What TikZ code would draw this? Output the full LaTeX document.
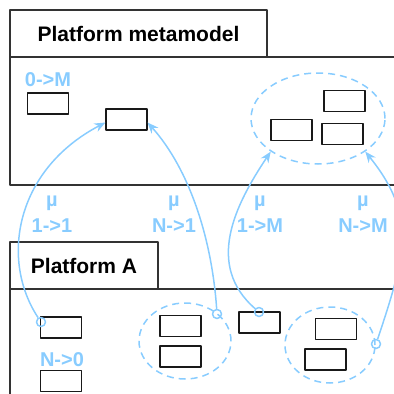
\documentclass[tikz,border=0pt]{standalone}
\usepackage{fontspec}
\setmainfont{Liberation Sans}
\usetikzlibrary{arrows.meta,shapes.geometric}
\definecolor{lblue}{RGB}{136,204,255}
\definecolor{dgray}{RGB}{51,51,51}
\tikzset{
  box/.style={draw=black!90, line width=1.2pt, minimum width=41pt, minimum height=21pt, inner sep=0pt},
  tab/.style={draw=dgray, line width=1.2pt, inner sep=0pt, font=\fontsize{21}{25}\selectfont\bfseries},
  pkg/.style={draw=dgray, line width=1.2pt},
  group/.style={ellipse, draw=lblue, line width=1.5pt, dash pattern=on 7pt off 5pt, inner sep=0pt},
  lbl/.style={text=lblue, align=center, inner sep=0pt, font=\fontsize{20}{26}\selectfont\bfseries},
  tail/.style={circle, draw=lblue, line width=1.5pt, minimum size=9pt, inner sep=0pt},
  link/.style={draw=lblue, line width=1.5pt, -{Stealth[length=11pt,width=9pt]}},
}
\begin{document}
\begin{tikzpicture}[x=1pt, y=-1pt, line join=round]
\useasboundingbox (0,0) rectangle (394,394);
\clip (0,0) rectangle (394,394);
% platform metamodel
\node[tab, minimum width=257pt, minimum height=47pt] (ttop) at (138.5,33.5) {Platform metamodel};
\draw[pkg] (400,57) -- (10,57) -- (10,185) -- (400,185);
\node[lbl] (l0m) at (48,80) {0->M};
\node[box] (m1) at (48,103.5) {};
\node[box] (m2) at (126.5,119.5) {};
\node[group, minimum width=134pt, minimum height=91pt] (gtop) at (318,118.5) {};
\node[box] (m3) at (344.5,101) {};
\node[box] (m4) at (291.5,130) {};
\node[box] (m5) at (342.5,134) {};
% mappings
\node[lbl] (l11) at (52,214.5) {µ\\1->1};
\node[lbl] (ln1) at (174,214.5) {µ\\N->1};
\node[lbl] (l1m) at (260,214.5) {µ\\1->M};
\node[lbl] (lnm) at (363,214.5) {µ\\N->M};
% platform A
\node[tab, minimum width=148pt, minimum height=47pt] (tbot) at (84,265.5) {Platform A};
\draw[pkg] (400,289) -- (10,289) -- (10,400);
\node[box] (a1) at (61,327.5) {};
\node[lbl] (ln0) at (62,360) {N->0};
\node[box] (a2) at (61,381) {};
\node[group, minimum width=92pt, minimum height=76pt] (gmid) at (185,341) {};
\node[box] (a3) at (180.5,326) {};
\node[box] (a4) at (180.5,356.5) {};
\node[box] (a5) at (259.5,322.5) {};
\node[group, minimum width=90pt, minimum height=76pt] (gbot) at (330,345) {};
\node[box] (a6) at (336,329) {};
\node[box] (a7) at (325.5,359.5) {};
% links
\node[tail] (t1) at (41,322) {};
\node[tail] (t2) at (217,314) {};
\node[tail] (t3) at (259,312) {};
\node[tail] (t4) at (376,344) {};
\draw[link] (t1) .. controls (0,260) and (15,170) .. ([yshift=-3pt]m2.west);
\draw[link] (t2) .. controls (212,240) and (190,170) .. ([yshift=-3pt]m2.east);
\draw[link] (t3) .. controls (205,265) and (235,205) .. (gtop.-145);
\draw[link] (t4) .. controls (406,254) and (417,216) .. (gtop.-35);
\end{tikzpicture}
\end{document}
